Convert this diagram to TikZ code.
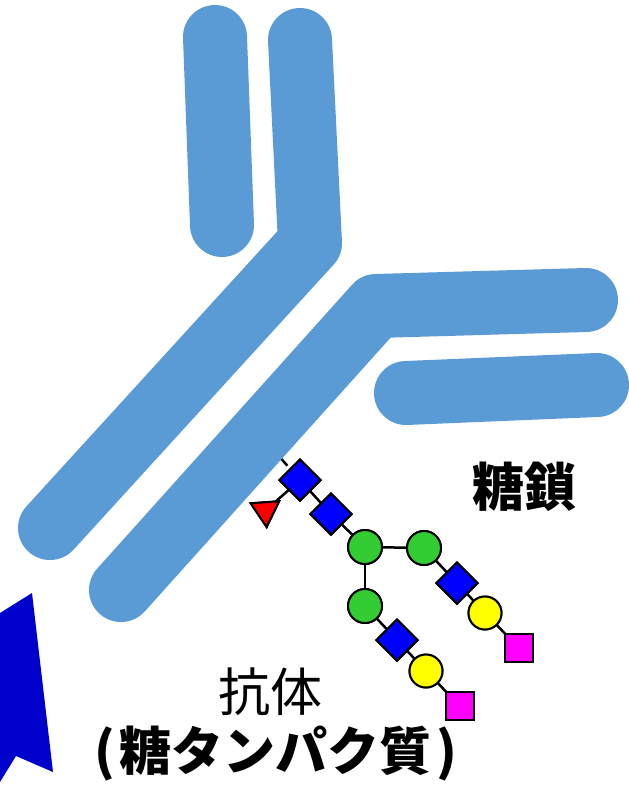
\documentclass[tikz,border=0pt]{standalone}
\usepackage{fontspec}
\newfontfamily\jpfont{Noto Sans CJK JP}
\usetikzlibrary{shapes.geometric}
\definecolor{abblue}{HTML}{5B9BD5}
\definecolor{arrowblue}{HTML}{0000CC}
\definecolor{glcnac}{HTML}{0000FF}
\definecolor{man}{HTML}{33CC33}
\definecolor{gal}{HTML}{FFFF00}
\definecolor{sia}{HTML}{FF00FF}
\definecolor{fuc}{HTML}{FF0000}
\tikzset{
  chainpart/.style={draw=abblue, line width=64pt, line cap=round, line join=round},
  sugar/.style={draw=black, line width=2pt, inner sep=0pt},
  glcnacnode/.style={sugar, diamond, aspect=1, minimum width=42pt, minimum height=42pt, fill=glcnac},
  mannode/.style={sugar, circle, minimum size=34pt, fill=man},
  galnode/.style={sugar, circle, minimum size=33pt, fill=gal},
  sianode/.style={sugar, rectangle, minimum size=28pt, fill=sia},
  fucnode/.style={sugar, regular polygon, regular polygon sides=3, minimum size=33pt, fill=fuc, shape border rotate=180, rotate=4},
  bond/.style={draw=black, line width=2.5pt},
  label/.style={font=\jpfont\fontsize{52}{58}\selectfont, inner sep=0pt},
  boldlabel/.style={font=\jpfont\bfseries\fontsize{52}{58}\selectfont, inner sep=0pt}
}
\begin{document}
\begin{tikzpicture}[x=1pt, y=-1pt]
\useasboundingbox (0,0) rectangle (629,785);

% sugar residues of the glycan
\node[glcnacnode] (g1) at (300,480) {};
\node[glcnacnode] (g2) at (331,514) {};
\node[fucnode] (f1) at (265.5,510.5) {};
\node[mannode] (m1) at (365,547) {};
\node[mannode] (m2) at (424,548) {};
\node[mannode] (m3) at (365,606) {};
\node[glcnacnode] (g3) at (457,583) {};
\node[galnode] (y1) at (485,613) {};
\node[sianode] (s1) at (519,648) {};
\node[glcnacnode] (g4) at (397,640) {};
\node[galnode] (y2) at (426,671) {};
\node[sianode] (s2) at (460,706) {};
\coordinate (anchorpt) at (262,437);

% glycosidic bonds
\draw[bond, shorten >=19pt] (anchorpt) -- (g1.center);
\draw[bond] (f1.center) -- (g1.center);
\draw[bond] (g1.center) -- (g2.center);
\draw[bond] (g2.center) -- (m1.center);
\draw[bond] (m1.center) -- (m2.center);
\draw[bond] (m1.center) -- (m3.center);
\draw[bond] (m2.center) -- (g3.center);
\draw[bond] (g3.center) -- (y1.center);
\draw[bond] (y1.center) -- (s1.center);
\draw[bond] (m3.center) -- (g4.center);
\draw[bond] (g4.center) -- (y2.center);
\draw[bond] (y2.center) -- (s2.center);

% antibody chains
\draw[chainpart] (215,37) -- (222,225);
\draw[chainpart] (300,40) -- (310,243) -- (50,528);
\draw[chainpart] (586,300) -- (376,306) -- (121,590);
\draw[chainpart] (406,393) -- (597,385);

% residues redrawn over the bonds
\node[glcnacnode] at (g1) {};
\node[glcnacnode] at (g2) {};
\node[fucnode] at (f1) {};
\node[mannode] at (m1) {};
\node[mannode] at (m2) {};
\node[mannode] at (m3) {};
\node[glcnacnode] at (g3) {};
\node[galnode] at (y1) {};
\node[sianode] at (s1) {};
\node[glcnacnode] at (g4) {};
\node[galnode] at (y2) {};
\node[sianode] at (s2) {};

% pointer shape at the lower left
\fill[arrowblue] (0,613) -- (32,593) -- (53,772) -- (16,756) -- (0,782) -- cycle;

% labels
\node[boldlabel] (glycan) at (524,487) {糖鎖};
\node[label] (antibody) at (270,692) {抗体};
\node[boldlabel] (glycoprotein) at (276,754) {(\kern5pt 糖タンパク質\kern5pt)};
\end{tikzpicture}
\end{document}
